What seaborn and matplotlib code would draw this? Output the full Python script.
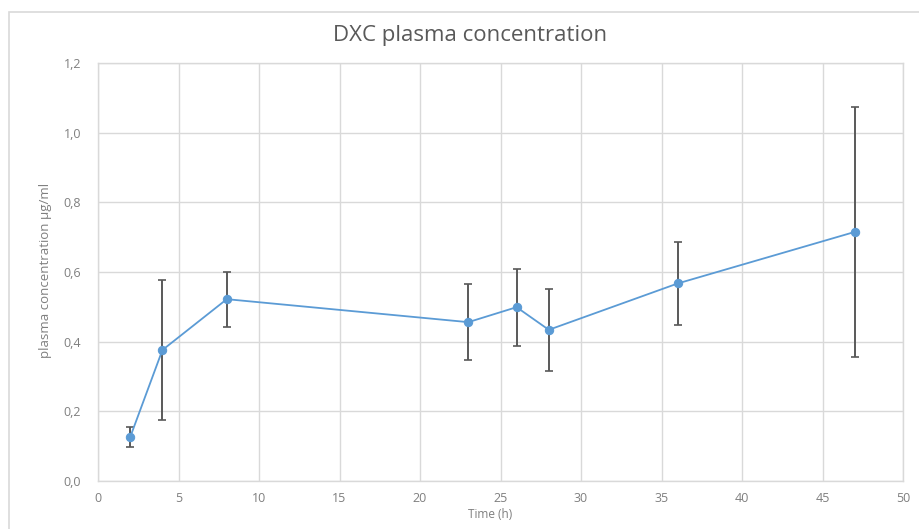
import numpy as np
import pandas as pd
import matplotlib
matplotlib.use("Agg")
import matplotlib.pyplot as plt
from matplotlib.patches import Rectangle
from matplotlib.ticker import FuncFormatter, MultipleLocator
import seaborn as sns

# data
time_h = [2, 4, 8, 23, 26, 28, 36, 47]
conc_mean = [0.126, 0.376, 0.522, 0.456, 0.499, 0.434, 0.567, 0.715]
conc_err = [0.029, 0.200, 0.079, 0.110, 0.111, 0.118, 0.120, 0.360]

df = pd.DataFrame({"time": time_h, "conc": conc_mean, "err": conc_err})

sns.set_theme(style="white")
plt.rcParams["font.family"] = ["Open Sans", "DejaVu Sans"]

text_grey = "#7f7f7f"
grid_grey = "#d9d9d9"
blue = "#5b9bd5"

fig = plt.figure(figsize=(9.19, 5.29), dpi=100)
ax = fig.add_axes([98 / 919, 1 - 481 / 529, (903 - 98) / 919, (481 - 63) / 529])

# chart area border (cropped screenshot, runs off right/bottom)
fig.add_artist(Rectangle((9 / 919, -0.1), 1.2, 1.1 - 12 / 529,
                         transform=fig.transFigure, fill=False,
                         edgecolor="#d9d9d9", linewidth=1.2))

ax.errorbar(df["time"], df["conc"], yerr=df["err"], fmt="none",
            ecolor="#595959", elinewidth=1.4, capsize=3, capthick=1.2, zorder=2)
sns.lineplot(data=df, x="time", y="conc", ax=ax, color=blue, linewidth=1.3,
             marker="o", markersize=6, markeredgecolor=blue, zorder=3)

ax.set_xlim(0, 50)
ax.set_ylim(0, 1.2)
ax.xaxis.set_major_locator(MultipleLocator(5))
ax.yaxis.set_major_locator(MultipleLocator(0.2))
ax.yaxis.set_major_formatter(FuncFormatter(lambda v, p: f"{v:.1f}".replace(".", ",")))
ax.grid(True, color=grid_grey, linewidth=1)
ax.set_axisbelow(True)
for s in ax.spines.values():
    s.set_color(grid_grey)
    s.set_linewidth(1)

ax.tick_params(axis="both", length=0, labelsize=9, colors=text_grey)
ax.tick_params(axis="y", pad=12)
ax.tick_params(axis="x", pad=8)
ax.set_xlabel("")
ax.set_ylabel("")

fig.text(470 / 919, 1 - 36 / 529, "DXC plasma concentration", ha="center", va="center",
         fontsize=16, color="#595959")
fig.text(490 / 919, 1 - 515 / 529, "Time (h)", ha="center", va="center",
         fontsize=8.5, color=text_grey)
fig.text(46 / 919, 1 - 270 / 529, "plasma concentration µg/ml", ha="center", va="center",
         rotation=90, fontsize=9.5, color=text_grey)

fig.savefig("out.png", dpi=100)
